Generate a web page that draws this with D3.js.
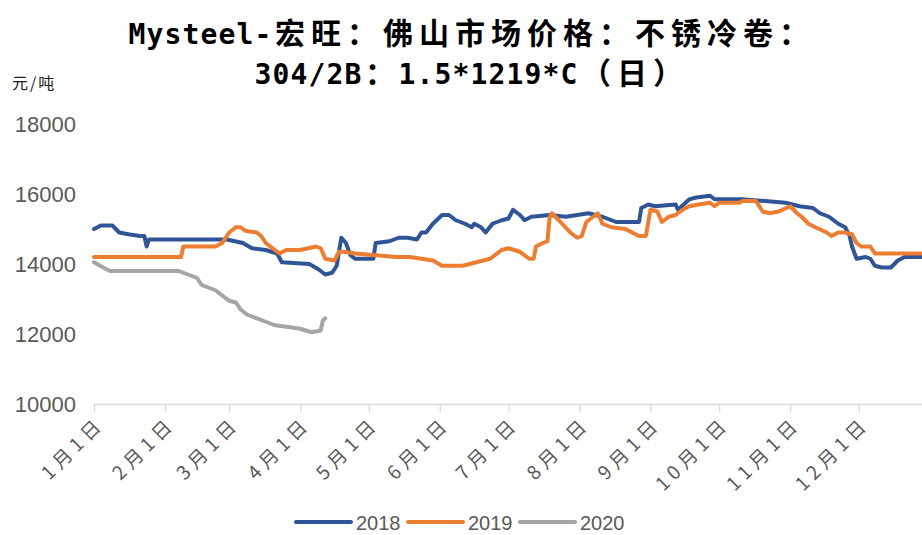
<!DOCTYPE html>
<html lang="zh">
  <head>
    <meta charset="utf-8">
    <title>佛山不锈冷卷价格</title>
    <script src="https://cdn.jsdelivr.net/npm/d3@7"></script>
    <style>
      body { margin: 0; background: #fff; }
      svg { display: block; }
    </style>
  </head>
  <body>
    <script>
     // data: ["MM-DD", 元/吨]
     let price2018 = [
       ["01-01", 15000], ["01-04", 15100], ["01-09", 15100], ["01-12", 14900], ["01-16", 14850],
       ["01-21", 14800], ["01-23", 14800], ["01-24", 14500], ["01-25", 14700], ["02-28", 14700],
       ["03-07", 14600], ["03-11", 14450], ["03-17", 14400], ["03-22", 14300], ["03-24", 14050],
       ["04-05", 14000], ["04-09", 13850], ["04-12", 13700], ["04-15", 13750], ["04-17", 13950],
       ["04-19", 14750], ["04-21", 14600], ["04-23", 14250], ["04-25", 14150], ["05-03", 14150],
       ["05-04", 14600], ["05-10", 14650], ["05-14", 14750], ["05-18", 14750], ["05-22", 14700],
       ["05-24", 14900], ["05-26", 14900], ["05-29", 15150], ["06-02", 15400], ["06-05", 15400],
       ["06-08", 15250], ["06-12", 15150], ["06-15", 15050], ["06-16", 15150], ["06-19", 15050],
       ["06-21", 14900], ["06-24", 15150], ["06-28", 15250], ["07-01", 15300], ["07-03", 15550],
       ["07-06", 15400], ["07-08", 15250], ["07-11", 15350], ["07-19", 15400], ["07-26", 15350],
       ["08-05", 15450], ["08-11", 15350], ["08-17", 15200], ["08-27", 15200], ["08-28", 15600],
       ["08-31", 15700], ["09-03", 15650], ["09-12", 15700], ["09-13", 15550], ["09-18", 15850],
       ["09-21", 15900], ["09-27", 15950], ["09-29", 15850], ["10-11", 15850], ["10-21", 15800],
       ["10-30", 15750], ["11-05", 15650], ["11-11", 15600], ["11-14", 15450], ["11-18", 15350],
       ["11-22", 15150], ["11-25", 15050], ["11-27", 14800], ["11-28", 14500], ["11-30", 14150],
       ["12-04", 14200], ["12-06", 14150], ["12-08", 13950], ["12-11", 13900], ["12-15", 13900],
       ["12-18", 14100], ["12-21", 14200], ["12-31", 14200]
     ];
     let price2019 = [
       ["01-01", 14200], ["02-08", 14200], ["02-09", 14500], ["02-23", 14500], ["02-26", 14600],
       ["03-01", 14900], ["03-04", 15050], ["03-06", 15050], ["03-08", 14950], ["03-13", 14900],
       ["03-15", 14800], ["03-17", 14600], ["03-19", 14500], ["03-23", 14300], ["03-26", 14400],
       ["04-01", 14400], ["04-08", 14500], ["04-10", 14450], ["04-12", 14150], ["04-16", 14100],
       ["04-18", 14350], ["04-20", 14350], ["04-25", 14300], ["05-04", 14250], ["05-13", 14200],
       ["05-19", 14200], ["05-24", 14150], ["05-29", 14100], ["06-02", 13950], ["06-11", 13950],
       ["06-17", 14050], ["06-23", 14150], ["06-28", 14400], ["07-01", 14450], ["07-06", 14350],
       ["07-10", 14150], ["07-12", 14150], ["07-13", 14500], ["07-16", 14600], ["07-18", 14650],
       ["07-19", 15350], ["07-20", 15450], ["07-23", 15250], ["07-28", 14900], ["07-31", 14750],
       ["08-02", 14800], ["08-04", 15200], ["08-07", 15350], ["08-09", 15450], ["08-11", 15150],
       ["08-15", 15050], ["08-21", 15000], ["08-24", 14900], ["08-27", 14800], ["08-30", 14800],
       ["09-01", 15550], ["09-04", 15500], ["09-06", 15200], ["09-09", 15350], ["09-12", 15400],
       ["09-15", 15550], ["09-18", 15650], ["09-22", 15700], ["09-27", 15750], ["09-29", 15650],
       ["10-01", 15750], ["10-10", 15750], ["10-11", 15800], ["10-17", 15800], ["10-20", 15500],
       ["10-23", 15450], ["10-27", 15500], ["11-01", 15650], ["11-04", 15450], ["11-06", 15350],
       ["11-09", 15150], ["11-12", 15050], ["11-17", 14900], ["11-19", 14800], ["11-22", 14900],
       ["11-25", 14900], ["11-28", 14850], ["11-30", 14600], ["12-02", 14500], ["12-06", 14500],
       ["12-08", 14300], ["12-29", 14300], ["12-31", 14100]
     ];
     let price2020 = [
       ["01-01", 14050], ["01-05", 13900], ["01-08", 13800], ["02-07", 13800], ["02-11", 13700],
       ["02-15", 13600], ["02-17", 13400], ["02-23", 13250], ["02-26", 13100], ["03-01", 12950],
       ["03-04", 12900], ["03-06", 12700], ["03-09", 12550], ["03-15", 12400], ["03-21", 12250],
       ["03-27", 12200], ["04-01", 12150], ["04-06", 12050], ["04-10", 12100], ["04-11", 12400],
       ["04-12", 12450]
     ];
     let seriesNames = ["2018", "2019", "2020"];
     let seriesColors = ["#2f5597", "#ed7d31", "#a5a5a5"];
     let yTicks = [10000, 12000, 14000, 16000, 18000];
     let titleLines = ["Mysteel-宏旺：佛山市场价格：不锈冷卷：", "304/2B：1.5*1219*C（日）"];
     let unitLabel = "元/吨";

     let w = 922, h = 535;
     let parseDay = d3.timeParse("%Y-%m-%d");
     let toDate = (md) => parseDay("2001-" + md);

     let svg = d3.select("body").append("svg")
       .attr("width", w)
       .attr("height", h);

     let xScale = d3.scaleTime()
       .domain([toDate("01-01"), parseDay("2002-01-01")])
       .range([94, 94 + 365 * 2.29]);
     let yScale = d3.scaleLinear()
       .domain([10000, 18000])
       .range([404, 124]);

     // title: fixed-pitch layout, full width chars take two cells
     let cell = 18;
     let isWide = (c) => c.charCodeAt(0) > 0x2e80;
     titleLines.forEach((str, li) => {
       let chars = Array.from(str);
       let total = d3.sum(chars, c => isWide(c) ? 2 : 1) * cell;
       let x0 = 470 - total / 2;
       let t = svg.append("text")
         .attr("y", 44 + li * 40)
         .attr("font-size", "30px")
         .attr("font-weight", "bold")
         .attr("fill", "#000")
         .attr("text-anchor", "middle");
       let pos = x0;
       chars.forEach(c => {
         let cw = (isWide(c) ? 2 : 1) * cell;
         t.append("tspan")
           .attr("x", pos + cw / 2)
           .attr("font-family", isWide(c) ? "'Noto Sans CJK SC', sans-serif" : "'DejaVu Sans Mono', monospace")
           .attr("font-size", isWide(c) ? "30px" : "28px")
           .text(c);
         pos += cw;
       });
     });

     svg.append("text")
       .attr("x", 12)
       .attr("y", 89)
       .attr("font-family", "'Noto Sans CJK SC', sans-serif")
       .attr("font-size", "16px")
       .attr("letter-spacing", "2px")
       .attr("fill", "#222")
       .text(unitLabel);

     // y axis labels (no axis line)
     let yAxis = d3.axisLeft(yScale).tickValues(yTicks).tickSize(0).tickPadding(0).tickFormat(d3.format("d"));
     let gy = svg.append("g").attr("transform", "translate(76,0)").call(yAxis);
     gy.select(".domain").remove();
     gy.selectAll("text")
       .attr("font-family", "'Liberation Sans', Arial, sans-serif")
       .attr("font-size", "22px")
       .attr("fill", "#595959");

     // x axis with month ticks
     let monthTicks = d3.timeMonth.range(toDate("01-01"), toDate("12-02"));
     let xAxis = d3.axisBottom(xScale)
       .tickValues(monthTicks)
       .tickSize(8)
       .tickSizeOuter(0)
       .tickFormat(d3.timeFormat("%-m月%-d日"));
     let gx = svg.append("g").attr("transform", "translate(0,404)").call(xAxis);
     gx.select(".domain").attr("stroke", "#d9d9d9").attr("stroke-width", 1.3);
     gx.selectAll(".tick line").attr("stroke", "#d9d9d9").attr("stroke-width", 1.3);
     gx.selectAll(".tick text")
       .attr("font-family", "'Noto Sans CJK SC', sans-serif")
       .attr("font-size", "19px")
       .attr("letter-spacing", "5px")
       .attr("fill", "#595959")
       .attr("text-anchor", "end")
       .attr("dy", null)
       .attr("y", null)
       .attr("transform", "translate(11,21) rotate(-45)");

     // series lines
     let line = d3.line()
       .x(d => xScale(toDate(d[0])))
       .y(d => yScale(d[1]));
     let allSeries = [price2018, price2019, price2020];
     svg.append("g")
       .selectAll("path")
       .data(allSeries)
       .enter()
       .append("path")
       .attr("d", d => line(d))
       .attr("fill", "none")
       .attr("stroke", (d, i) => seriesColors[i])
       .attr("stroke-width", 4)
       .attr("stroke-linejoin", "round")
       .attr("stroke-linecap", "round");

     // legend
     let legendX = [296, 408, 520];
     let lg = svg.append("g")
       .selectAll("g")
       .data(seriesNames)
       .enter()
       .append("g")
       .attr("transform", (d, i) => "translate(" + legendX[i] + ",522)");
     lg.append("line")
       .attr("x1", 0).attr("x2", 55)
       .attr("y1", 0).attr("y2", 0)
       .attr("stroke", (d, i) => seriesColors[i])
       .attr("stroke-width", 4)
       .attr("stroke-linecap", "round");
     lg.append("text")
       .attr("x", 60)
       .attr("y", 7.5)
       .attr("font-family", "'Liberation Sans', Arial, sans-serif")
       .attr("font-size", "20px")
       .attr("fill", "#595959")
       .text(d => d);
    </script>
  </body>
</html>
